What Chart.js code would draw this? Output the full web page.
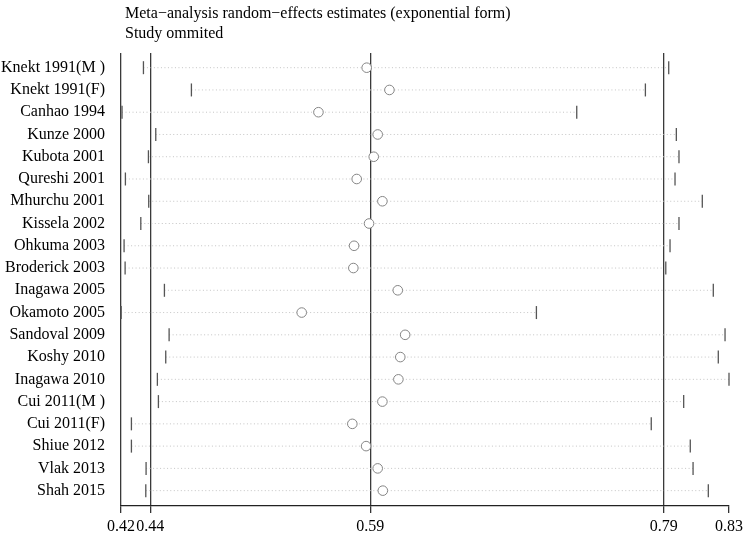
<!DOCTYPE html>
<html>
<head>
<meta charset="utf-8">
<script src="https://cdn.jsdelivr.net/npm/chart.js@4"></script>
<style>
  html, body { margin: 0; padding: 0; background: #fff; }
  #wrap { width: 750px; height: 537px; }
</style>
</head>
<body>
<div id="wrap"><canvas id="mainChart" width="750" height="537"></canvas></div>
<script>
// === Data ===
const studies = [
  "Knekt 1991(M )", "Knekt 1991(F)", "Canhao 1994", "Kunze 2000", "Kubota 2001",
  "Qureshi 2001", "Mhurchu 2001", "Kissela 2002", "Ohkuma 2003", "Broderick 2003",
  "Inagawa 2005", "Okamoto 2005", "Sandoval 2009", "Koshy 2010", "Inagawa 2010",
  "Cui 2011(M )", "Cui 2011(F)", "Shiue 2012", "Vlak 2013", "Shah 2015"
];
const estimates = [
  0.5875, 0.6030, 0.5546, 0.5950, 0.5923, 0.5807, 0.5982, 0.5891, 0.5789, 0.5784,
  0.6087, 0.5432, 0.6137, 0.6104, 0.6091, 0.5982, 0.5777, 0.5871, 0.5950, 0.5985
];
const lowerCI = [
  0.4353, 0.4680, 0.4207, 0.4437, 0.4387, 0.4230, 0.4389, 0.4335, 0.4221, 0.4228,
  0.4496, 0.4201, 0.4528, 0.4505, 0.4448, 0.4455, 0.4271, 0.4271, 0.4371, 0.4369
];
const upperCI = [
  0.7934, 0.7775, 0.7307, 0.7986, 0.8004, 0.7977, 0.8163, 0.8004, 0.7943, 0.7914,
  0.8238, 0.7032, 0.8318, 0.8272, 0.8345, 0.8036, 0.7815, 0.8081, 0.8100, 0.8204
];
const xTicks = [0.42, 0.44, 0.59, 0.79, 0.8345];
const xTickLabels = ["0.42", "0.44", "0.59", "0.79", "0.83"];
// overall estimate and its CI get the solid vertical lines
const refLines = [0.44, 0.59, 0.79];

const serif = "'Liberation Serif', 'Times New Roman', serif";

// === Build point lists for the library ===
const circlePts = estimates.map((v, i) => ({ x: v, y: i }));
const tickPts = [];
const rangePts = [];
studies.forEach((s, i) => {
  tickPts.push({ x: lowerCI[i], y: i }, { x: upperCI[i], y: i });
  rangePts.push({ x: lowerCI[i], y: i }, { x: upperCI[i], y: i }, { x: null, y: null });
});

const ctx = document.getElementById("mainChart");
new Chart(ctx.getContext("2d"), {
  type: "scatter",
  data: {
    datasets: [
      {
        // estimates (drawn on top)
        data: circlePts,
        pointStyle: "circle",
        pointRadius: 4.8,
        pointBackgroundColor: "#ffffff",
        pointBorderColor: "#858585",
        pointBorderWidth: 1,
        clip: false
      },
      {
        // CI end markers
        data: tickPts,
        pointStyle: "line",
        rotation: 90,
        pointRadius: 6.5,
        pointBorderColor: "#555555",
        pointBorderWidth: 1.3,
        clip: false
      },
      {
        // dotted CI range
        data: rangePts,
        showLine: true,
        spanGaps: false,
        pointRadius: 0,
        borderColor: "#c4c4c4",
        borderWidth: 1,
        borderDash: [1, 2.5],
        clip: false
      }
    ]
  },
  options: {
    responsive: false,
    animation: false,
    layout: { padding: { left: 0, right: 21, top: 0, bottom: 0 } },
    plugins: {
      legend: { display: false },
      tooltip: { enabled: false },
      title: {
        display: true,
        fullSize: false,
        align: "start",
        // leading space nudges the text off the axis line like the original
        text: [" Meta\u2212analysis random\u2212effects estimates (exponential form)", " Study ommited"],
        color: "#000",
        font: { family: serif, size: 16, weight: "normal", lineHeight: 1.25 },
        padding: { top: 4, bottom: 9 }
      }
    },
    scales: {
      x: {
        type: "linear",
        min: xTicks[0],
        max: xTicks[xTicks.length - 1],
        afterBuildTicks: (scale) => {
          scale.ticks = xTicks.map(v => ({ value: v }));
        },
        afterFit: (scale) => { scale.height = 31; },
        ticks: {
          autoSkip: false,
          maxRotation: 0,
          padding: 4,
          color: "#000",
          font: { family: serif, size: 16 },
          callback: (v, i) => xTickLabels[i]
        },
        grid: {
          drawOnChartArea: true,
          tickLength: 7,
          lineWidth: 1.3,
          tickColor: "#333",
          color: (c) => (c.tick && (c.tick.value === xTicks[0] || refLines.includes(c.tick.value))) ? "#3a3a3a" : "rgba(0,0,0,0)"
        },
        border: { display: true, color: "#222", width: 1.3 }
      },
      y: {
        type: "linear",
        reverse: true,
        min: -0.66,
        max: 19.69,
        afterBuildTicks: (scale) => {
          scale.ticks = studies.map((s, i) => ({ value: i }));
        },
        afterFit: (scale) => { scale.width = 121; },
        ticks: {
          autoSkip: false,
          padding: 16,
          color: "#000",
          font: { family: serif, size: 16 },
          callback: (v) => studies[v]
        },
        grid: { display: false, drawTicks: false },
        border: { display: false }
      }
    }
  }
});
</script>
</body>
</html>
